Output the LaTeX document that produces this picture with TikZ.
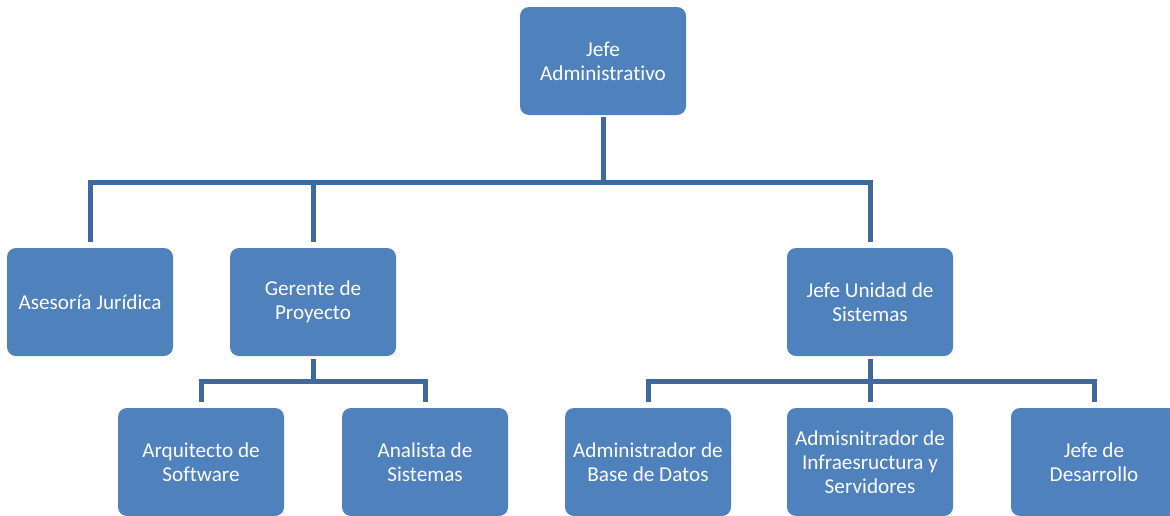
\documentclass[tikz,border=0pt]{standalone}
\usepackage{fontspec}
\setmainfont{Carlito}[Ligatures=NoCommon]
\definecolor{boxblue}{HTML}{4F81BD}
\definecolor{lineblue}{HTML}{3F6A9E}

\begin{document}
\begin{tikzpicture}[x=1pt, y=-1pt]
  \tikzset{
    unit/.style={fill=boxblue, rounded corners=9pt, minimum width=166pt,
      minimum height=108pt, inner sep=0pt, align=center, text=white,
      font=\fontsize{21.2}{24}\selectfont},
    conn/.style={draw=lineblue, line width=5pt},
  }
  \useasboundingbox (0,0) rectangle (1170,515);

  % levels
  \node[unit] (jefe) at (603,61) {Jefe\\Administrativo};
  \foreach \name/\x/\txt in {ases/90/Asesoría Jurídica,
      ger/313/Gerente de\\Proyecto, jsis/870/Jefe Unidad de\\Sistemas}
    \node[unit] (\name) at (\x,302) {\txt};
  \foreach \name/\x/\txt in {arq/201/Arquitecto de\\Software,
      ana/425/Analista de\\Sistemas, adb/648/Administrador de\\Base de Datos,
      adm/870/Admisnitrador de\\Infraesructura y\\Servidores,
      jdes/1094/Jefe de\\Desarrollo}
    \node[unit] (\name) at (\x,462) {\txt};

  % connectors
  \draw[conn, shorten <=2pt] (jefe.south) -- ++(0,67) coordinate (bus1);
  \foreach \kid in {ases,ger,jsis}
    \draw[conn, shorten >=6pt] (bus1) -| (\kid.north);
  \draw[conn, shorten <=3pt] (ger.south) -- ++(0,25) coordinate (bus2);
  \foreach \kid in {arq,ana}
    \draw[conn, shorten >=6pt] (bus2) -| (\kid.north);
  \draw[conn, shorten <=3pt] (jsis.south) -- ++(0,25) coordinate (bus3);
  \foreach \kid in {adb,adm,jdes}
    \draw[conn, shorten >=6pt] (bus3) -| (\kid.north);
\end{tikzpicture}
\end{document}
